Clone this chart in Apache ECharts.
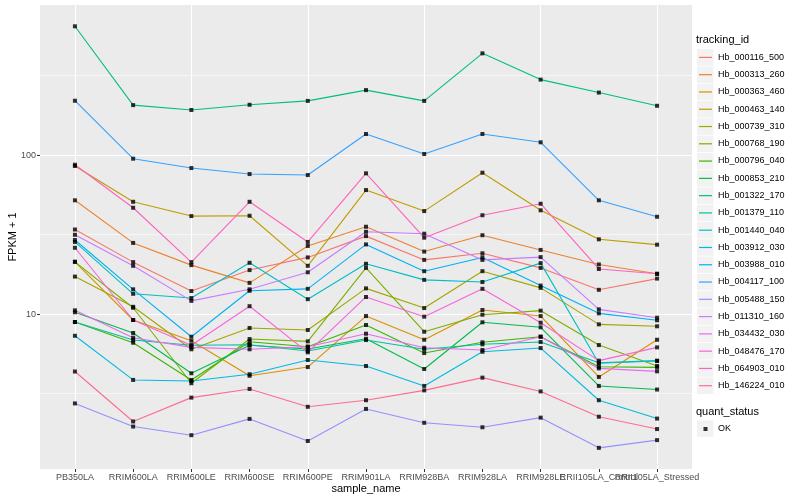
<!DOCTYPE html>
<html><head><meta charset="utf-8">
<script src="https://cdn.jsdelivr.net/npm/echarts@6/dist/echarts.min.js"></script>
<style>html,body{margin:0;padding:0;background:#fff}#c{width:800px;height:500px}</style>
</head><body><div id="c"></div>
<script>
const categories = ['PB350LA','RRIM600LA','RRIM600LE','RRIM600SE','RRIM600PE','RRIM901LA','RRIM928BA','RRIM928LA','RRIM928LE','RRII105LA_Control','RRII105LA_Stressed'];

const Hb_000116_500 = [34.0, 21.2, 13.95, 18.9, 22.7, 30.9, 21.9, 24.1, 19.5, 14.2, 16.7];
const Hb_000313_260 = [51.9, 28.0, 20.3, 15.7, 26.8, 35.4, 24.7, 31.3, 25.3, 20.5, 17.9];
const Hb_000363_460 = [21.3, 9.17, 6.79, 4.09, 4.64, 9.71, 6.89, 10.6, 9.71, 4.02, 6.89];
const Hb_000463_140 = [85.3, 50.8, 41.3, 41.5, 20.1, 60.2, 44.4, 77.4, 44.9, 29.5, 27.3];
const Hb_000739_310 = [17.2, 11.1, 6.0, 8.17, 7.93, 14.5, 10.9, 18.6, 14.6, 8.61, 8.37];
const Hb_000768_190 = [21.3, 10.95, 3.67, 6.96, 6.73, 19.5, 7.74, 9.90, 10.5, 6.38, 4.71];
const Hb_000796_040 = [8.91, 6.60, 3.85, 6.70, 6.23, 8.53, 5.68, 6.64, 7.20, 4.66, 4.62];
const Hb_000853_210 = [10.25, 7.60, 4.24, 6.36, 6.03, 6.99, 4.51, 8.87, 8.25, 3.53, 3.35];
const Hb_001322_170 = [645, 206, 192, 207, 219, 256, 219, 436, 298, 247, 204];
const Hb_001379_110 = [8.91, 6.86, 6.36, 6.41, 5.85, 6.86, 6.0, 6.45, 6.67, 4.94, 5.09];
const Hb_001440_040 = [28.4, 13.4, 12.6, 21.0, 12.4, 20.7, 16.4, 15.9, 20.9, 4.90, 5.06];
const Hb_003912_030 = [7.30, 3.85, 3.79, 4.18, 5.14, 4.71, 3.53, 5.79, 6.11, 2.87, 2.20];
const Hb_003988_010 = [29.2, 14.3, 7.20, 14.0, 14.4, 27.4, 18.6, 22.7, 15.1, 10.1, 9.13];
const Hb_004117_100 = [219.5, 94.8, 82.8, 75.9, 74.8, 135.6, 101.5, 135.6, 120.2, 51.9, 40.9];
const Hb_005488_150 = [2.74, 1.96, 1.73, 2.19, 1.59, 2.53, 2.07, 1.94, 2.23, 1.44, 1.61];
const Hb_011310_160 = [31.5, 20.1, 12.1, 14.3, 18.3, 32.9, 32.0, 21.9, 22.8, 10.7, 9.48];
const Hb_034432_030 = [10.55, 7.10, 6.17, 6.0, 6.23, 7.52, 6.14, 5.94, 7.20, 4.55, 4.36];
const Hb_048476_170 = [26.1, 9.17, 6.36, 11.2, 5.74, 12.8, 9.62, 14.4, 8.82, 5.09, 6.17];
const Hb_064903_010 = [86.9, 46.6, 21.2, 50.8, 28.4, 76.7, 30.2, 41.8, 49.4, 19.2, 17.9];
const Hb_146224_010 = [4.35, 2.11, 2.98, 3.38, 2.61, 2.87, 3.31, 3.98, 3.26, 2.26, 1.89];

const trackingIds = ['Hb_000116_500','Hb_000313_260','Hb_000363_460','Hb_000463_140','Hb_000739_310','Hb_000768_190','Hb_000796_040','Hb_000853_210','Hb_001322_170','Hb_001379_110','Hb_001440_040','Hb_003912_030','Hb_003988_010','Hb_004117_100','Hb_005488_150','Hb_011310_160','Hb_034432_030','Hb_048476_170','Hb_064903_010','Hb_146224_010'];
const seriesValues = [Hb_000116_500,Hb_000313_260,Hb_000363_460,Hb_000463_140,Hb_000739_310,Hb_000768_190,Hb_000796_040,Hb_000853_210,Hb_001322_170,Hb_001379_110,Hb_001440_040,Hb_003912_030,Hb_003988_010,Hb_004117_100,Hb_005488_150,Hb_011310_160,Hb_034432_030,Hb_048476_170,Hb_064903_010,Hb_146224_010];
const colors = ['#F8766D','#EA8331','#D89000','#C09B00','#A3A500','#7CAE00','#39B600','#00BB4E','#00BF7D','#00C1A3','#00BFC4','#00BAE0','#00B0F6','#35A2FF','#9590FF','#C77CFF','#E76BF3','#FA62DB','#FF62BC','#FF6C90'];

const yTickValues = [10, 100];
const yMinorValues = [3.1623, 31.623, 316.23];
const quantStatus = 'OK';

const catIdx = categories.map((c, i) => i);
const evenIdx = catIdx.filter(i => i % 2 === 0);
const oddIdx = catIdx.filter(i => i % 2 === 1);
const FONT = '"Liberation Sans", Arial, Helvetica, sans-serif';

const series = trackingIds.map((name, k) => ({
  name: name,
  type: 'line',
  xAxisIndex: 0,
  data: seriesValues[k].map((v, i) => [i, v]),
  symbol: 'none',
  lineStyle: { color: colors[k], width: 1.1 },
  itemStyle: { color: colors[k] },
  z: 3,
  animation: false
}));
const okPoints = [];
seriesValues.forEach(arr => arr.forEach((v, i) => okPoints.push([i, v])));
series.push({
  name: quantStatus,
  type: 'scatter',
  xAxisIndex: 0,
  data: okPoints,
  symbol: 'rect',
  symbolSize: 4,
  itemStyle: { color: '#000' },
  z: 5,
  animation: false,
  markLine: {
    silent: true, symbol: 'none', z: 1, animation: false,
    label: { show: false },
    lineStyle: { color: '#ffffff', width: 0.6, type: 'solid' },
    data: yMinorValues.map(v => ({ yAxis: v }))
  }
});

const legTop = 48.8, legStep = 17.28;
const keyRects = trackingIds.map((n, i) => ({
  type: 'rect', left: 697, top: legTop + i * legStep + 0.4, z: 0,
  shape: { width: 16.5, height: 16.5 }, style: { fill: '#F2F2F2' }
}));
keyRects.push({ type: 'rect', left: 697, top: 420.5, z: 0, shape: { width: 16.5, height: 16.5 }, style: { fill: '#F2F2F2' } });

function xAxisDef(ticks, primary) {
  return {
    type: 'value', min: -0.6, max: 10.6, position: 'bottom', offset: 0,
    axisLine: { show: false, onZero: false },
    axisTick: { show: true, customValues: ticks, length: 3, lineStyle: { color: '#333333', width: 1 } },
    axisLabel: { customValues: ticks, formatter: v => categories[Math.round(v)], fontSize: 9, color: '#4D4D4D', margin: 4, fontFamily: FONT, showMinLabel: true, showMaxLabel: true, hideOverlap: false },
    splitLine: { show: primary, lineStyle: { color: '#ffffff', width: 1.1 } },
    name: primary ? 'sample_name' : '', nameLocation: 'middle', nameGap: 14, nameMoveOverlap: false,
    nameTextStyle: { fontSize: 11, color: '#000', fontFamily: FONT }
  };
}

const chart = echarts.init(document.getElementById('c'), null, { renderer: 'canvas' });
chart.setOption({
  animation: false,
  textStyle: { fontFamily: FONT },
  grid: { left: 40, right: 108, top: 5, bottom: 31, show: true, backgroundColor: '#EBEBEB', borderWidth: 0, containLabel: false, outerBoundsMode: 'none' },
  title: [
    { text: 'tracking_id', left: 696, top: 34, padding: 0, textStyle: { fontSize: 11, fontWeight: 'normal', color: '#000', fontFamily: FONT } },
    { text: 'quant_status', left: 696, top: 406, padding: 0, textStyle: { fontSize: 11, fontWeight: 'normal', color: '#000', fontFamily: FONT } }
  ],
  legend: [
    {
      data: trackingIds, orient: 'vertical', left: 697, top: legTop, padding: 0,
      itemWidth: 17, itemHeight: 17, itemGap: legStep - 17, selectedMode: false,
      icon: 'path://M0,0 M17,17 M2,8 L15,8 L15,9.2 L2,9.2 Z',
      textStyle: { fontSize: 9, color: '#000', fontFamily: FONT, padding: [0, 0, 0, -1] }
    },
    {
      data: [quantStatus], orient: 'vertical', left: 697, top: 420.5, padding: 0,
      itemWidth: 17, itemHeight: 17, selectedMode: false,
      icon: 'path://M0,0 M17,17 M6.5,6.5 L10.5,6.5 L10.5,10.5 L6.5,10.5 Z',
      textStyle: { fontSize: 9, color: '#000', fontFamily: FONT, padding: [0, 0, 0, -1] }
    }
  ],
  graphic: keyRects,
  xAxis: [xAxisDef(evenIdx, true), xAxisDef(oddIdx, false)],
  yAxis: {
    type: 'log', logBase: 10, min: 1.06, max: 878,
    axisLine: { show: false, onZero: false },
    axisTick: { show: true, customValues: yTickValues, length: 3, lineStyle: { color: '#333333', width: 1 } },
    axisLabel: { customValues: yTickValues, formatter: v => String(Math.round(v)), fontSize: 9, color: '#4D4D4D', margin: 4, fontFamily: FONT },
    splitLine: { show: true, lineStyle: { color: '#ffffff', width: 1.1 } },
    minorSplitLine: { show: false },
    name: 'FPKM + 1', nameLocation: 'middle', nameGap: 22, nameRotate: 90, nameMoveOverlap: false,
    nameTextStyle: { fontSize: 11, color: '#000', fontFamily: FONT }
  },
  series: series
});
</script></body></html>
